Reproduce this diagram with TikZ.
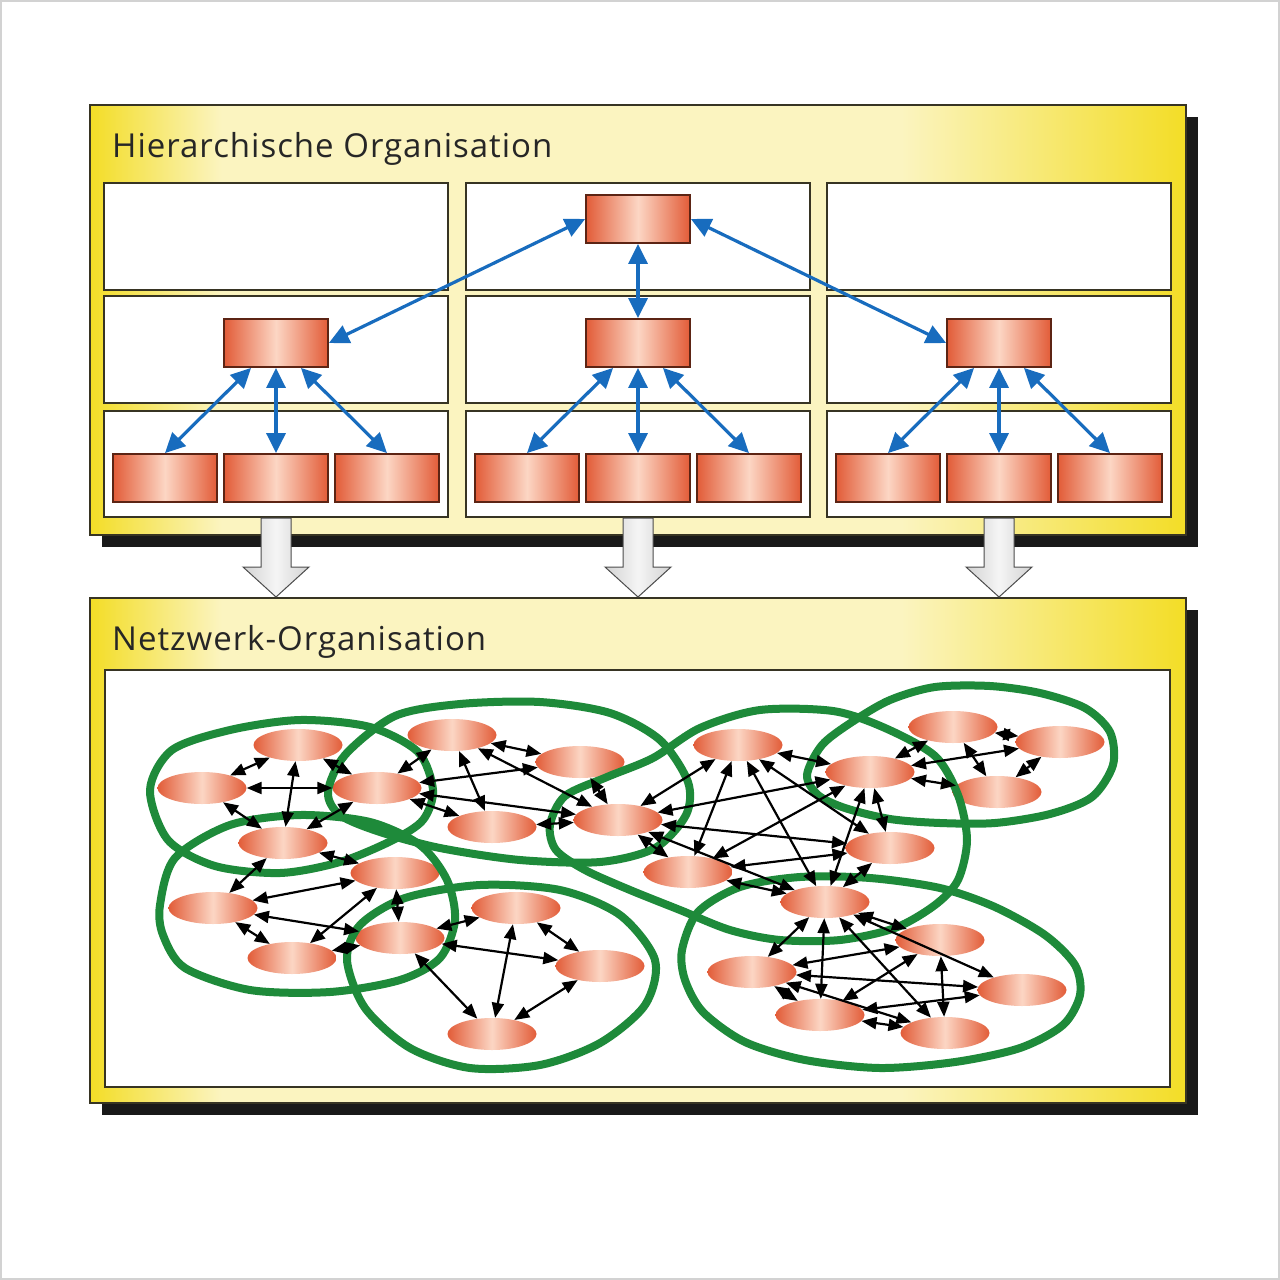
\documentclass[tikz,border=0pt]{standalone}
\usepackage{fontspec}
\setmainfont{Open Sans}[LetterSpace=3]
\usetikzlibrary{shapes.geometric,arrows.meta}

\definecolor{panelyellow}{RGB}{243,221,38}
\definecolor{panelpale}{RGB}{251,244,192}
\definecolor{boxred}{RGB}{226,92,56}
\definecolor{boxpale}{RGB}{252,214,196}
\definecolor{boxline}{RGB}{92,36,20}
\definecolor{hierblue}{RGB}{24,108,190}
\definecolor{ringgreen}{RGB}{30,138,58}
\definecolor{frameline}{RGB}{55,52,35}

\pgfdeclarehorizontalshading{panelshade}{100bp}{color(0bp)=(panelyellow); color(25bp)=(panelyellow); color(31bp)=(panelpale); color(62bp)=(panelpale); color(75bp)=(panelyellow); color(100bp)=(panelyellow)}

\begin{document}
\begin{tikzpicture}[x=1pt,y=-1pt,
		box/.style={rectangle,draw=boxline,line width=1.8pt,left color=boxred,right color=boxred,middle color=boxpale,minimum width=104pt,minimum height=48pt,inner sep=0pt},
		cell/.style={ellipse,left color=boxred,right color=boxred,middle color=boxpale,minimum width=89pt,minimum height=32pt,inner sep=0pt},
		level/.style={draw=frameline,line width=2.4pt,fill=white},
		panel/.style={draw=frameline,line width=2.4pt,shade,shading=panelshade},
		uplink/.style={hierblue,line width=3.2pt,<->,>={Triangle[length=20pt,width=19pt]}},
		link/.style={black,line width=2.2pt,<->,>={Triangle[length=15pt,width=12pt]}},
		ring/.style={ringgreen,line width=8pt},
		blockarrow/.style={draw=gray!60!black,line width=1pt,left color=gray!35,right color=gray!35,middle color=gray!8},
		title/.style={anchor=base west,inner sep=0pt,font=\fontsize{33}{35}\selectfont,text=black!85}
	]
		\useasboundingbox (0,0) rectangle (1280,1280);
		\draw[gray!35,line width=2pt] (1,1) rectangle (1279,1279);
		
		% upper panel
		\fill[black!90] (102,117) rectangle (1198,547);
		\draw[panel] (90,105) rectangle (1186,535);
		\node[title] (hier) at (112,157) {Hierarchische Organisation};
		
		\foreach \c in {276,638,999}{
			\foreach \t/\b in {183/290,296/403,411/517}{
				\draw[level] (\c-172,\t) rectangle (\c+172,\b);
			}
		}
		
		\node[box] (r0) at (638,219) {};
		
		\foreach \x[count=\i] in {276,638,999}{
			\node[box] (r\i) at (\x,343) {};
		}
		
		\foreach \x[count=\i] in {165,276,387,527,638,749,888,999,1110}{
			\node[box] (s\i) at (\x,478) {};
		}
		
		\draw[uplink] (r0.west) -- (r1.east);
		\draw[uplink] (r0.south) -- (r2.north);
		\draw[uplink] (r0.east) -- (r3.west);
		\draw[uplink] (r1.-135) -- (s1.north);
		\draw[uplink] (r1.south) -- (s2.north);
		\draw[uplink] (r1.-45) -- (s3.north);
		\draw[uplink] (r2.-135) -- (s4.north);
		\draw[uplink] (r2.south) -- (s5.north);
		\draw[uplink] (r2.-45) -- (s6.north);
		\draw[uplink] (r3.-135) -- (s7.north);
		\draw[uplink] (r3.south) -- (s8.north);
		\draw[uplink] (r3.-45) -- (s9.north);
		
		% lower panel
		\fill[black!90] (102,610) rectangle (1198,1115);
		\draw[panel] (90,598) rectangle (1186,1103);
		\node[title] (netz) at (112,650) {Netzwerk-Organisation};
		\draw[level] (105,670) rectangle (1170,1087);
		
		\foreach \x in {276,638,999}{
			\draw[blockarrow] (\x-15,518) -- (\x+15,518) -- (\x+15,567) -- (\x+33,567) -- (\x,597) -- (\x-33,567) -- (\x-15,567) -- cycle;
		}
		
		% network
		\node[cell] (a1) at (298,745) {};
		\node[cell] (a2) at (202,788) {};
		\node[cell] (a3) at (377,788) {};
		\node[cell] (a4) at (283,843) {};
		\node[cell] (a5) at (395,873) {};
		\node[cell] (a6) at (213,908) {};
		\node[cell] (a7) at (400,938) {};
		\node[cell] (a8) at (292,958) {};
		\node[cell] (a9) at (516,908) {};
		\node[cell] (a10) at (600,966) {};
		\node[cell] (a11) at (492,1034) {};
		\node[cell] (b1) at (452,735) {};
		\node[cell] (b2) at (580,762) {};
		\node[cell] (b3) at (492,827) {};
		\node[cell] (b4) at (618,820) {};
		\node[cell] (c1) at (738,745) {};
		\node[cell] (c2) at (870,772) {};
		\node[cell] (c3) at (890,848) {};
		\node[cell] (c4) at (688,872) {};
		\node[cell] (c5) at (825,902) {};
		\node[cell] (d1) at (953,727) {};
		\node[cell] (d2) at (1060,742) {};
		\node[cell] (d3) at (997,792) {};
		\node[cell] (e1) at (940,940) {};
		\node[cell] (e2) at (752,972) {};
		\node[cell] (e3) at (1022,990) {};
		\node[cell] (e4) at (820,1015) {};
		\node[cell] (e5) at (945,1033) {};
		
		\draw[ring] plot[smooth cycle] coordinates {(150,790) (172,750) (230,730) (300,720) (370,727) (418,752) (433,790) (423,820) (393,840) (340,862) (280,873) (215,866) (168,840)};
		\draw[ring] plot[smooth cycle] coordinates {(160,905) (175,858) (230,825) (300,815) (370,822) (420,845) (447,880) (455,920) (440,958) (400,980) (330,992) (250,990) (185,968) (163,935)};
		\draw[ring] plot[smooth cycle] coordinates {(347,960) (360,925) (405,898) (480,885) (560,890) (620,915) (655,960) (645,1005) (600,1043) (540,1065) (470,1068) (410,1048) (365,1008)};
		\draw[ring] plot[smooth cycle] coordinates {(328,792) (345,755) (395,716) (460,704) (540,702) (610,713) (660,740) (688,782) (686,815) (655,848) (600,862) (520,860) (440,848) (380,832) (340,815)};
		\draw[ring] plot[smooth cycle] coordinates {(550,825) (565,796) (607,777) (653,758) (700,728) (760,710) (833,711) (885,728) (935,756) (958,795) (967,840) (958,880) (935,905) (895,928) (840,940) (780,940) (730,930) (680,910) (630,890) (585,870) (556,850)};
		\draw[ring] plot[smooth cycle] coordinates {(807,775) (822,745) (852,722) (890,700) (935,687) (990,686) (1040,693) (1085,708) (1110,732) (1113,765) (1092,797) (1050,814) (995,823) (940,823) (890,819) (845,808) (818,795)};
		\draw[ring] plot[smooth cycle] coordinates {(682,950) (698,912) (740,887) (800,877) (870,878) (940,888) (995,907) (1045,935) (1075,965) (1080,995) (1063,1025) (1020,1048) (955,1062) (880,1068) (805,1060) (745,1042) (703,1012) (685,980)};
		
		\draw[link] (a1) -- (a2);
		\draw[link] (a1) -- (a3);
		\draw[link] (a1) -- (a4);
		\draw[link] (a2) -- (a3);
		\draw[link] (a2) -- (a4);
		\draw[link] (a3) -- (a4);
		\draw[link] (a3) -- (b1);
		\draw[link] (a3) -- (b2);
		\draw[link] (a3) -- (b3);
		\draw[link] (a3) -- (b4);
		\draw[link] (a4) -- (a5);
		\draw[link] (a4) -- (a6);
		\draw[link] (a5) -- (a6);
		\draw[link] (a5) -- (a7);
		\draw[link] (a5) -- (a8);
		\draw[link] (a6) -- (a7);
		\draw[link] (a6) -- (a8);
		\draw[link] (a7) -- (a8);
		\draw[link] (a7) -- (a9);
		\draw[link] (a7) -- (a10);
		\draw[link] (a7) -- (a11);
		\draw[link] (a9) -- (a10);
		\draw[link] (a9) -- (a11);
		\draw[link] (a10) -- (a11);
		\draw[link] (b1) -- (b2);
		\draw[link] (b1) -- (b3);
		\draw[link] (b1) -- (b4);
		\draw[link] (b2) -- (b4);
		\draw[link] (b3) -- (b4);
		\draw[link] (b4) -- (c1);
		\draw[link] (b4) -- (c2);
		\draw[link] (b4) -- (c3);
		\draw[link] (b4) -- (c4);
		\draw[link] (b4) -- (c5);
		\draw[link] (c1) -- (c2);
		\draw[link] (c1) -- (c3);
		\draw[link] (c1) -- (c4);
		\draw[link] (c1) -- (c5);
		\draw[link] (c2) -- (c3);
		\draw[link] (c2) -- (c4);
		\draw[link] (c2) -- (c5);
		\draw[link] (c3) -- (c4);
		\draw[link] (c3) -- (c5);
		\draw[link] (c4) -- (c5);
		\draw[link] (c2) -- (d1);
		\draw[link] (c2) -- (d2);
		\draw[link] (c2) -- (d3);
		\draw[link] (d1) -- (d2);
		\draw[link] (d1) -- (d3);
		\draw[link] (d2) -- (d3);
		\draw[link] (c5) -- (e1);
		\draw[link] (c5) -- (e2);
		\draw[link] (c5) -- (e3);
		\draw[link] (c5) -- (e4);
		\draw[link] (c5) -- (e5);
		\draw[link] (e1) -- (e2);
		\draw[link] (e1) -- (e4);
		\draw[link] (e1) -- (e5);
		\draw[link] (e2) -- (e3);
		\draw[link] (e2) -- (e4);
		\draw[link] (e2) -- (e5);
		\draw[link] (e3) -- (e4);
		\draw[link] (e4) -- (e5);
\end{tikzpicture}
\end{document}
